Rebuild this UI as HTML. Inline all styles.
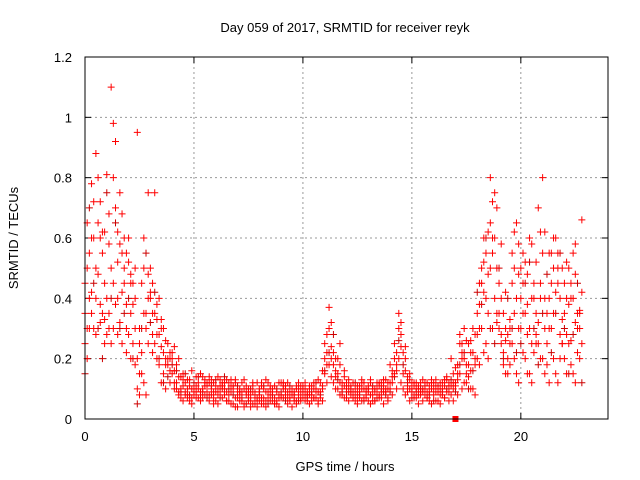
<!DOCTYPE html>
<html><head><meta charset="utf-8"><style>
body{margin:0;background:#fff}
svg{display:block;font-family:"Liberation Sans",sans-serif;font-size:13px}
</style></head><body>
<svg id="chart" width="640" height="480" viewBox="0 0 640 480">
<rect width="640" height="480" fill="#fff"/>
<text x="345" y="32" text-anchor="middle">Day 059 of 2017, SRMTID for receiver reyk</text>
<text x="345" y="471" text-anchor="middle">GPS time / hours</text>
<text transform="translate(18,238) rotate(-90)" text-anchor="middle">SRMTID / TECUs</text>
<g id="grid"></g><g id="ticks"></g><g id="marks"></g>
<rect x="85" y="57" width="523" height="362" fill="none" stroke="#000" stroke-width="1"/>
</svg>
<script>
const hours=[0,0.2,0.4,0.6,0.8,1,1.2,1.4,1.6,1.8,2,2.2,2.4,2.6,2.8,3,3.2,3.4,3.6,3.8,4,4.2,4.4,4.6,4.8,5,5.2,5.4,5.6,5.8,6,6.2,6.4,6.6,6.8,7,7.2,7.4,7.6,7.8,8,8.2,8.4,8.6,8.8,9,9.2,9.4,9.6,9.8,10,10.2,10.4,10.6,10.8,11,11.2,11.4,11.6,11.8,12,12.2,12.4,12.6,12.8,13,13.2,13.4,13.6,13.8,14,14.2,14.4,14.6,14.8,15,15.2,15.4,15.6,15.8,16,16.2,16.4,16.6,16.8,17,17.2,17.4,17.6,17.8,18,18.2,18.4,18.6,18.8,19,19.2,19.4,19.6,19.8,20,20.2,20.4,20.6,20.8,21,21.2,21.4,21.6,21.8,22,22.2,22.4,22.6,22.8];
const hours2=[0.1,0.3,0.5,0.7,0.9,1.1,1.3,1.5,1.7,1.9,2.1,2.3,2.5,2.7,2.9,3.1,3.3,3.5,3.7,3.9,4.1,4.3,4.5,4.7,4.9,5.1,5.3,5.5,5.7,5.9,6.1,6.3,6.5,6.7,6.9,7.1,7.3,7.5,7.7,7.9,8.1,8.3,8.5,8.7,8.9,9.1,9.3,9.5,9.7,9.9,10.1,10.3,10.5,10.7,10.9,11.1,11.3,11.5,11.7,11.9,12.1,12.3,12.5,12.7,12.9,13.1,13.3,13.5,13.7,13.9,14.1,14.3,14.5,14.7,14.9,15.1,15.3,15.5,15.7,15.9,16.1,16.3,16.5,16.7,16.9,17.1,17.3,17.5,17.7,17.9,18.1,18.3,18.5,18.7,18.9,19.1,19.3,19.5,19.7,19.9,20.1,20.3,20.5,20.7,20.9,21.1,21.3,21.5,21.7,21.9,22.1,22.3,22.5,22.7];
const s1=[.35,.55,.72,.48,.62,.81,1.10,.70,.58,.45,.52,.38,.95,.45,.30,.42,.35,.28,.22,.18,.15,.12,.10,.09,.11,.08,.12,.10,.09,.13,.11,.09,.12,.08,.10,.07,.09,.11,.06,.05,.08,.10,.07,.06,.09,.08,.10,.07,.09,.08,.07,.09,.08,.10,.12,.20,.30,.22,.15,.12,.10,.09,.08,.11,.07,.09,.10,.08,.12,.09,.18,.25,.30,.15,.11,.09,.10,.12,.08,.11,.10,.09,.12,.14,.20,.11,.25,.30,.18,.22,.35,.45,.55,.80,.40,.30,.22,.28,.45,.65,.40,.52,.30,.22,.70,.55,.35,.45,.60,.28,.45,.38,.55,.30,.42];
const s2=[.25,.40,.30,.65,.35,.28,.50,.38,.32,.60,.28,.25,.10,.22,.35,.40,.25,.18,.15,.20,.22,.10,.07,.12,.06,.09,.10,.07,.12,.08,.06,.11,.08,.12,.05,.09,.06,.08,.04,.07,.06,.05,.09,.10,.06,.12,.08,.06,.07,.10,.09,.06,.11,.07,.09,.15,.18,.12,.10,.08,.07,.11,.06,.09,.10,.06,.08,.12,.07,.10,.12,.15,.20,.10,.09,.12,.07,.09,.10,.06,.08,.06,.10,.09,.08,.12,.15,.20,.14,.10,.20,.30,.25,.50,.60,.35,.18,.20,.25,.15,.30,.20,.15,.40,.25,.20,.18,.30,.15,.40,.20,.25,.15,.35,.25];
const s3=[.45,.30,.60,.80,.55,.40,.25,.92,.75,.50,.60,.45,.20,.15,.08,.50,.75,.40,.30,.25,.20,.18,.14,.08,.13,.10,.07,.14,.11,.10,.09,.13,.10,.06,.11,.04,.12,.09,.08,.09,.10,.07,.12,.09,.05,.07,.11,.09,.06,.12,.11,.08,.06,.09,.07,.25,.37,.18,.20,.10,.12,.08,.10,.07,.12,.11,.06,.10,.09,.13,.10,.20,.35,.22,.14,.10,.12,.08,.12,.09,.12,.10,.08,.13,.11,.17,.28,.12,.25,.30,.28,.50,.40,.65,.75,.45,.35,.15,.55,.40,.50,.35,.60,.45,.32,.80,.25,.55,.42,.20,.35,.50,.40,.22,.66];
const s4=[.15,.70,.45,.30,.20,.75,.40,.65,.30,.35,.40,.20,.05,.30,.55,.32,.42,.20,.12,.14,.18,.16,.09,.15,.08,.12,.14,.09,.07,.11,.13,.07,.14,.10,.08,.11,.07,.05,.10,.08,.09,.11,.05,.08,.10,.09,.06,.11,.08,.06,.10,.07,.09,.12,.08,.16,.22,.28,.13,.09,.09,.10,.12,.08,.06,.10,.11,.07,.10,.08,.09,.14,.26,.18,.12,.07,.09,.10,.11,.08,.06,.11,.09,.10,.13,.09,.18,.22,.10,.16,.42,.38,.60,.30,.25,.50,.20,.40,.30,.22,.25,.45,.52,.30,.18,.35,.48,.22,.35,.55,.30,.15,.28,.45,.12];
const s5=[.50,.42,.88,.60,.33,.68,.98,.40,.55,.30,.35,.50,.25,.60,.40,.28,.33,.24,.20,.16,.12,.09,.13,.07,.10,.14,.08,.11,.12,.07,.10,.12,.06,.09,.13,.08,.10,.07,.12,.06,.07,.09,.11,.05,.08,.12,.07,.10,.06,.09,.08,.11,.07,.06,.16,.28,.24,.14,.18,.11,.09,.12,.07,.10,.08,.12,.06,.11,.09,.07,.16,.22,.28,.20,.13,.08,.11,.09,.12,.10,.09,.12,.07,.11,.15,.13,.22,.18,.26,.20,.30,.52,.48,.72,.35,.28,.26,.33,.50,.58,.45,.38,.25,.28,.62,.40,.30,.50,.55,.33,.40,.26,.48,.35];
const s6=[.30,.60,.50,.38,.45,.58,.45,.52,.42,.38,.45,.30,.15,.35,.48,.35,.28,.30,.18,.22,.16,.14,.11,.10,.07,.11,.09,.13,.08,.12,.08,.10,.13,.11,.07,.09,.05,.10,.09,.07,.11,.06,.08,.07,.12,.10,.09,.08,.11,.07,.10,.08,.12,.09,.10,.18,.20,.16,.12,.14,.11,.07,.09,.12,.10,.08,.09,.07,.11,.12,.14,.18,.24,.16,.10,.11,.08,.10,.07,.12,.11,.08,.11,.12,.10,.15,.20,.15,.22,.18,.38,.42,.35,.60,.50,.40,.30,.25,.35,.30,.35,.28,.40,.35,.45,.30,.40,.35,.50,.25,.28,.40,.32,.30];
const s7=[.20,.35,.28,.32,.25,.35,.30,.28,.25,.22,.20,.18,.08,.12,.25,.22,.20,.12,.10,.12,.10,.08,.06,.08,.05,.07,.06,.08,.06,.05,.05,.07,.06,.05,.04,.06,.04,.06,.05,.04,.05,.04,.06,.05,.04,.07,.05,.04,.05,.06,.06,.05,.07,.05,.06,.12,.14,.10,.08,.07,.06,.07,.05,.06,.07,.05,.06,.08,.05,.06,.08,.10,.12,.08,.06,.07,.05,.06,.07,.05,.06,.05,.07,.06,.06,.08,.10,.12,.10,.08,.18,.22,.20,.30,.32,.25,.15,.18,.20,.12,.22,.15,.12,.25,.20,.15,.12,.20,.12,.25,.15,.18,.12,.20];
const s8=[.65,.78,.40,.72,.62,.30,.80,.62,.68,.55,.48,.40,.30,.50,.75,.45,.38,.33,.26,.20,.24,.20,.15,.13,.16,.09,.15,.12,.14,.09,.14,.11,.09,.13,.12,.10,.13,.09,.11,.12,.12,.13,.10,.11,.07,.11,.12,.09,.10,.11,.12,.10,.10,.13,.11,.22,.32,.20,.25,.16,.13,.09,.11,.13,.09,.13,.10,.12,.13,.10,.12,.16,.32,.24,.15,.12,.10,.13,.09,.13,.13,.10,.13,.09,.12,.18,.25,.26,.16,.28,.45,.60,.62,.55,.70,.58,.42,.30,.62,.48,.55,.48,.58,.52,.40,.62,.55,.60,.45,.50,.52,.45,.58,.36];
const xTicks=[0,5,10,15,20];
const yTicks=[0,0.2,0.4,0.6,0.8,1,1.2];
const yTickLabels=["0","0.2","0.4","0.6","0.8","1","1.2"];
const marker=[17,0];

const NS="http://www.w3.org/2000/svg";
const X=h=>85+h*(523/24);
const Y=v=>419-v*(362/1.2);
function mk(tag,attrs,parent){const e=document.createElementNS(NS,tag);for(const k in attrs)e.setAttribute(k,attrs[k]);parent.appendChild(e);return e;}
const grid=document.getElementById('grid'),ticks=document.getElementById('ticks'),marks=document.getElementById('marks');
xTicks.forEach(t=>{
  const x=X(t);
  if(t>0){const g=mk('line',{x1:x,x2:x,y1:57,y2:419,stroke:'#999','stroke-dasharray':'2,3'},grid);
  
  }
  mk('line',{x1:x,x2:x,y1:419,y2:413,stroke:'#000'},ticks);
  mk('line',{x1:x,x2:x,y1:57,y2:63,stroke:'#000'},ticks);
  const l=mk('text',{x:x,y:441,'text-anchor':'middle'},ticks);l.textContent=t;
  
  
});
yTicks.forEach((t,i)=>{
  const y=Y(t);
  if(t>0&&t<1.2){const g=mk('line',{x1:85,x2:608,y1:y,y2:y,stroke:'#999','stroke-dasharray':'2,3'},grid);
  
  }
  mk('line',{x1:85,x2:91,y1:y,y2:y,stroke:'#000'},ticks);
  mk('line',{x1:602,x2:608,y1:y,y2:y,stroke:'#000'},ticks);
  const l=mk('text',{x:72,y:y+5,'text-anchor':'end'},ticks);l.textContent=yTickLabels[i];
  
  
});
const seriesList=[[hours,s4],[hours2,s7],[hours,s2],[hours2,s6],[hours,s3],[hours2,s5],[hours,s1],[hours2,s8]];
seriesList.forEach((pair,si)=>{
  const t=pair[0],s=pair[1];
  let d='';
  s.forEach((v,i)=>{const x=X(t[i]),y=Y(v);d+=`M${x-3.5},${y}h7M${x},${y-3.5}v7`;});
  const p=mk('path',{d:d,stroke:si===0?'#c00':'#f00','stroke-width':1,fill:'none'},marks);
  
  
});
const sq=mk('rect',{x:X(marker[0])-3,y:Y(marker[1])-3,width:6,height:6,fill:'#f00'},marks);


</script>
</body></html>
